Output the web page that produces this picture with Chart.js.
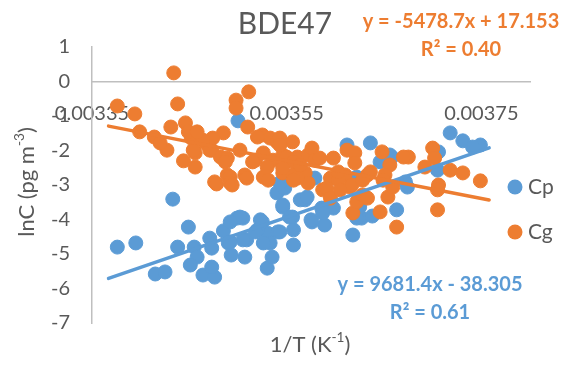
<!DOCTYPE html>
<html>
<head>
<meta charset="utf-8">
<script src="https://cdn.jsdelivr.net/npm/chart.js@4"></script>
<style>
html,body{margin:0;padding:0;background:#fff;}
#wrap{width:573px;height:365px;position:relative;}
</style>
</head>
<body>
<div id="wrap"><canvas id="c" width="573" height="365"></canvas></div>
<script>
// ---- data ----
const cpX = [0.003376,0.003395,0.003433,0.003449,0.003438,0.003455,0.003458,0.003451,0.003415,0.003425,
  0.003464,0.003476,0.003473,0.003471,0.003473,0.003485,0.003493,0.003490,0.003499,0.003505,
  0.003507,0.003523,0.003530,0.003520,0.003530,0.003535,0.003541,0.003533,0.003557,0.003557,
  0.003540,0.003548,0.003546,0.003556,0.003509,0.003502,0.003492,0.003525,0.003518,0.003505,
  0.003492,0.003526,0.003553,0.003569,0.003576,0.003589,0.003598,0.003586,0.003618,0.003627,
  0.003622,0.003587,0.003543,0.003564,0.003546,0.003550,0.003612,0.003636,0.003658,0.003674,
  0.003663,0.003705,0.003622,0.003625,0.003718,0.003731,0.003749,0.003741,0.003706,0.003656,
  0.003646,0.003672,0.003579,0.003543,0.003500,0.003638,0.003571,0.003575];
const cpY = [-4.80,-4.68,-3.41,-4.22,-4.80,-4.80,-5.09,-5.32,-5.58,-5.52,
  -5.61,-5.67,-5.38,-4.54,-4.83,-4.33,-5.03,-4.68,-3.96,-3.96,
  -5.09,-4.01,-4.39,-4.30,-5.41,-5.09,-4.36,-4.68,-4.74,-4.30,
  -3.23,-3.09,-3.64,-3.93,-4.59,-3.93,-4.07,-4.07,-4.36,-4.59,
  -4.65,-4.68,-3.93,-3.43,-4.07,-4.16,-3.67,-3.67,-4.45,-3.96,
  -3.96,-3.81,-4.36,-3.43,-3.58,-2.77,-1.84,-1.78,-2.19,-3.06,
  -3.72,-2.57,-2.77,-3.64,-1.49,-1.72,-1.84,-1.90,-2.04,-2.13,
  -2.33,-2.91,-2.80,-2.94,-1.14,-3.90,-3.35,-4.01];

const cgX = [0.003376,0.003394,0.003434,0.003438,0.003399,0.003414,0.003431,0.003446,0.003427,0.003420,
  0.003444,0.003456,0.003456,0.003452,0.003466,0.003473,0.003485,0.003498,0.003511,0.003498,
  0.003510,0.003489,0.003476,0.003482,0.003525,0.003533,0.003540,0.003556,0.003502,0.003518,
  0.003526,0.003536,0.003546,0.003561,0.003572,0.003576,0.003579,0.003598,0.003612,0.003620,
  0.003620,0.003492,0.003507,0.003526,0.003546,0.003557,0.003569,0.003595,0.003610,0.003633,
  0.003648,0.003675,0.003700,0.003702,0.003656,0.003692,0.003718,0.003731,0.003749,0.003636,
  0.003651,0.003706,0.003705,0.003705,0.003663,0.003646,0.003618,0.003622,0.003587,0.003603,
  0.003572,0.003654,0.003649,0.003659,0.003628,0.003615,0.003550,0.003492,0.003509,0.003531,
  0.003561,0.003591,0.003595,0.003617,0.003633,0.003628,0.003478,0.003494,0.003474,0.003464,
  0.003471,0.003454,0.003489,0.003557,0.003530,0.003557,0.003520,
  0.003564,0.003605,0.003584,0.003670,0.003543,0.003603,
  0.003449,0.003458,0.003487,0.003515,0.003546,0.003543];
const cgY = [-0.71,-0.94,0.25,-0.65,-1.46,-1.61,-1.32,-1.20,-1.99,-1.78,
  -2.30,-2.48,-2.07,-1.64,-1.78,-1.99,-1.49,-0.54,-0.30,-0.77,
  -1.32,-2.71,-2.91,-2.19,-1.55,-1.64,-1.75,-1.75,-1.99,-2.28,
  -2.07,-2.28,-2.13,-2.19,-2.13,-1.93,-2.28,-2.22,-1.99,-2.07,
  -2.36,-2.77,-2.71,-2.77,-2.65,-2.71,-2.65,-2.80,-2.71,-2.71,
  -2.04,-2.19,-1.93,-2.22,-2.42,-2.48,-2.57,-2.65,-2.88,-2.62,
  -2.71,-3.00,-3.14,-3.72,-4.22,-3.78,-3.81,-3.49,-3.14,-2.86,
  -2.94,-3.35,-2.86,-3.06,-3.29,-3.06,-2.19,-2.94,-2.80,-2.86,
  -2.80,-3.09,-3.38,-3.00,-3.38,-2.86,-2.97,-3.00,-1.64,-1.70,
  -1.99,-1.99,-2.22,-2.33,-2.48,-2.86,-1.61,
  -2.42,-3.14,-2.22,-2.19,-1.64,-2.62,
  -1.46,-1.46,-2.33,-2.33,-2.51,-1.84];

// trendlines (equations shown on the chart) and their x extent
const trendX = [0.003367, 0.003758];
const cpSlope = 9681.4, cpIntercept = -38.305, cpR2 = "0.61";
const cgSlope = -5478.7, cgIntercept = 17.153, cgR2 = "0.40";

const xTickValues = [0.00335, 0.00355, 0.00375];
const xTickLabels = ["0.00335", "0.00355", "0.00375"];
const yTickValues = [1, 0, -1, -2, -3, -4, -5, -6, -7];
const seriesNames = ["Cp", "Cg"];
const chartTitle = "BDE47";

const BLUE = "#5B9BD5", ORANGE = "#ED7D31", GREY = "#595959", AXIS = "#BFBFBF";
const FONT = "Lato, 'Liberation Sans', sans-serif";

const pts = (xs, ys) => xs.map((x, i) => ({x: x, y: ys[i]}));
const trend = (m, b) => trendX.map(x => ({x: x, y: m * x + b}));

function richWidth(ctx, parts, size, weight) {
  let w = 0;
  for (const p of parts) {
    ctx.font = weight + " " + (p.sup ? size * 0.62 : size) + "px " + FONT;
    w += ctx.measureText(p.t).width;
  }
  return w;
}
function drawRich(ctx, parts, cx, cy, size, color, weight) {
  const w = richWidth(ctx, parts, size, weight);
  let x = cx - w / 2;
  ctx.fillStyle = color;
  ctx.textBaseline = "middle";
  ctx.textAlign = "left";
  for (const p of parts) {
    const s = p.sup ? size * 0.62 : size;
    ctx.font = weight + " " + s + "px " + FONT;
    ctx.fillText(p.t, x, p.sup ? cy - size * 0.33 : cy);
    x += ctx.measureText(p.t).width;
  }
}

const deco = {
  id: "deco",
  afterDraw(chart) {
    const ctx = chart.ctx;
    ctx.save();
    // title
    ctx.fillStyle = GREY;
    ctx.font = "30px " + FONT;
    ctx.textAlign = "center";
    ctx.textBaseline = "middle";
    ctx.fillText(chartTitle, 285, 24);
    // axis titles
    drawRich(ctx, [{t: "1/T (K"}, {t: "-1", sup: true}, {t: ")"}], 310, 345, 22, GREY, "normal");
    ctx.save();
    ctx.translate(27, 182);
    ctx.rotate(-Math.PI / 2);
    drawRich(ctx, [{t: "lnC (pg m"}, {t: "-3", sup: true}, {t: ")"}], 0, 0, 22, GREY, "normal");
    ctx.restore();
    // trendline equations
    const f = v => (v < 0 ? "- " + Math.abs(v) : "+ " + v);
    ctx.font = "bold 20px " + FONT;
    ctx.textAlign = "center";
    ctx.fillStyle = ORANGE;
    ctx.fillText("y = " + cgSlope + "x " + f(cgIntercept), 461, 22);
    ctx.fillText("R\u00B2 = " + cgR2, 461, 50);
    ctx.fillStyle = BLUE;
    ctx.fillText("y = " + cpSlope + "x " + f(cpIntercept), 430, 285);
    ctx.fillText("R\u00B2 = " + cpR2, 430, 313);
    // legend
    const items = [[seriesNames[0], BLUE, 187], [seriesNames[1], ORANGE, 232]];
    for (const [name, col, y] of items) {
      ctx.fillStyle = col;
      ctx.beginPath();
      ctx.arc(515, y, 7.5, 0, Math.PI * 2);
      ctx.fill();
      ctx.fillStyle = GREY;
      ctx.font = "21px " + FONT;
      ctx.textAlign = "left";
      ctx.fillText(name, 528, y);
    }
    ctx.restore();
  }
};

new Chart(document.getElementById("c"), {
  type: "scatter",
  data: {
    datasets: [
      {label: seriesNames[0] + " trend", type: "line", data: trend(cpSlope, cpIntercept),
       borderColor: BLUE, borderWidth: 3.5, pointRadius: 0, borderCapStyle: "round", order: 1, fill: false},
      {label: seriesNames[1] + " trend", type: "line", data: trend(cgSlope, cgIntercept),
       borderColor: ORANGE, borderWidth: 3.5, pointRadius: 0, borderCapStyle: "round", order: 0, fill: false},
      {label: seriesNames[0], data: pts(cpX, cpY), backgroundColor: BLUE, borderColor: BLUE,
       borderWidth: 1, pointRadius: 7, order: 3},
      {label: seriesNames[1], data: pts(cgX, cgY), backgroundColor: ORANGE, borderColor: ORANGE,
       borderWidth: 1, pointRadius: 7, order: 2}
    ]
  },
  options: {
    responsive: false,
    animation: false,
    devicePixelRatio: 1,
    layout: {padding: {top: 47, right: 43, bottom: 42, left: 0}},
    plugins: {legend: {display: false}, tooltip: {enabled: false}, title: {display: false}},
    scales: {
      x: {
        type: "linear",
        min: 0.00335, max: 0.0038,
        position: {y: 0},
        z: 1,
        grid: {display: false, drawTicks: false},
        border: {display: true, color: AXIS, width: 1.5},
        afterBuildTicks: s => { s.ticks = xTickValues.map(v => ({value: v})); },
        ticks: {
          autoSkip: false, maxRotation: 0, minRotation: 0, padding: 20,
          color: GREY, font: {family: FONT, size: 20},
          callback: (v) => xTickLabels[xTickValues.indexOf(v)]
        }
      },
      y: {
        type: "linear",
        min: -7, max: 1,
        position: "left",
        afterFit: s => { s.width = 92; },
        afterBuildTicks: s => { s.ticks = yTickValues.map(v => ({value: v})); },
        grid: {display: false, drawTicks: false},
        border: {display: true, color: AXIS, width: 1.5},
        ticks: {padding: 22, color: GREY, font: {family: FONT, size: 20}}
      }
    }
  },
  plugins: [deco]
});
</script>
</body>
</html>
